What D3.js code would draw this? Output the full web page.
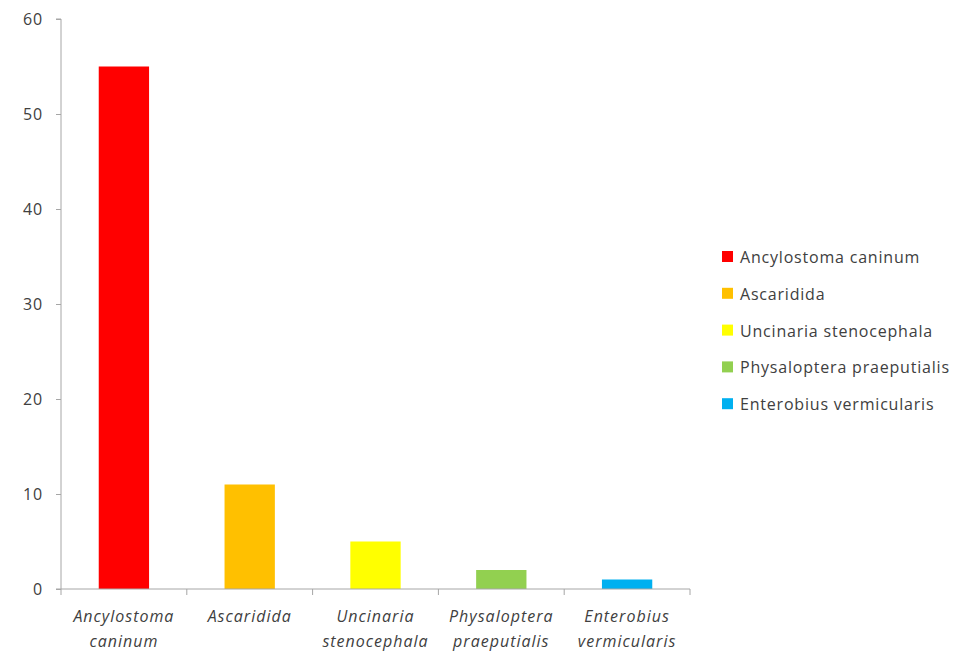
<!DOCTYPE html>
<html>
<head>
<meta charset="utf-8">
<script src="https://cdn.jsdelivr.net/npm/d3@7/dist/d3.min.js"></script>
<style>
  html, body { margin: 0; padding: 0; background: #fff; }
  svg { display: block; }
  text { font-family: "Open Sans", "DejaVu Sans", sans-serif; fill: #404040; }
</style>
</head>
<body>
<svg id="chart" width="953" height="657"></svg>
<script>
const categories = ["Ancylostoma caninum", "Ascaridida", "Uncinaria stenocephala", "Physaloptera praeputialis", "Enterobius vermicularis"];
const values = [55, 11, 5, 2, 1];
const colors = ["#FF0000", "#FFC000", "#FFFF00", "#92D050", "#00B0F0"];
const yTicks = [0, 10, 20, 30, 40, 50, 60];

const svg = d3.select("#chart");
const plot = { left: 61, right: 690, top: 19, bottom: 589 };

const x = d3.scaleBand().domain(categories).range([plot.left, plot.right]).paddingInner(0.6).paddingOuter(0.3);
const y = d3.scaleLinear().domain([0, 60]).range([plot.bottom, plot.top]);

// bars
svg.append("g").selectAll("rect").data(categories).join("rect")
  .attr("x", d => x(d))
  .attr("width", x.bandwidth())
  .attr("y", (d, i) => y(values[i]))
  .attr("height", (d, i) => y(0) - y(values[i]))
  .attr("fill", (d, i) => colors[i]);

// y axis
const yAxis = svg.append("g").attr("transform", `translate(${plot.left},0)`)
  .call(d3.axisLeft(y).tickValues(yTicks).tickSize(5).tickPadding(13));
yAxis.select(".domain").attr("stroke", "#a6a6a6").attr("d", `M-5,${plot.top}H0V${plot.bottom}H-5`);
yAxis.selectAll(".tick line").attr("stroke", "#a6a6a6");
yAxis.selectAll(".tick text").style("font-size", "16px").style("letter-spacing", "0.8px").attr("fill", "#404040");

// x axis line with boundary ticks
const bounds = d3.range(categories.length + 1).map(i => plot.left + (plot.right - plot.left) * i / categories.length);
const xg = svg.append("g");
xg.append("line").attr("x1", plot.left).attr("x2", plot.right).attr("y1", plot.bottom).attr("y2", plot.bottom).attr("stroke", "#a6a6a6");
xg.selectAll("line.tk").data(bounds).join("line").attr("class", "tk")
  .attr("x1", d => d).attr("x2", d => d).attr("y1", plot.bottom).attr("y2", plot.bottom + 6).attr("stroke", "#a6a6a6");

// x labels
const lbl = svg.append("g").selectAll("text").data(categories).join("text")
  .attr("x", d => x(d) + x.bandwidth() / 2)
  .attr("y", 622)
  .attr("text-anchor", "middle")
  .style("font-size", "16px")
  .style("letter-spacing", "1px")
  .style("font-style", "italic");
lbl.each(function(d) {
  const words = d.split(" ");
  const t = d3.select(this);
  words.forEach((w, i) => {
    t.append("tspan").attr("x", x(d) + x.bandwidth() / 2).attr("dy", i === 0 ? 0 : 25).text(w);
  });
});

// legend
const leg = svg.append("g").selectAll("g").data(categories).join("g")
  .attr("transform", (d, i) => `translate(722,${257 + i * 36.8})`);
leg.append("rect").attr("x", 0).attr("y", -6).attr("width", 11).attr("height", 11).attr("fill", (d, i) => colors[i]);
leg.append("text").attr("x", 18).attr("y", 6).style("font-size", "16px").style("letter-spacing", "0.8px").text(d => d);
</script>
</body>
</html>
